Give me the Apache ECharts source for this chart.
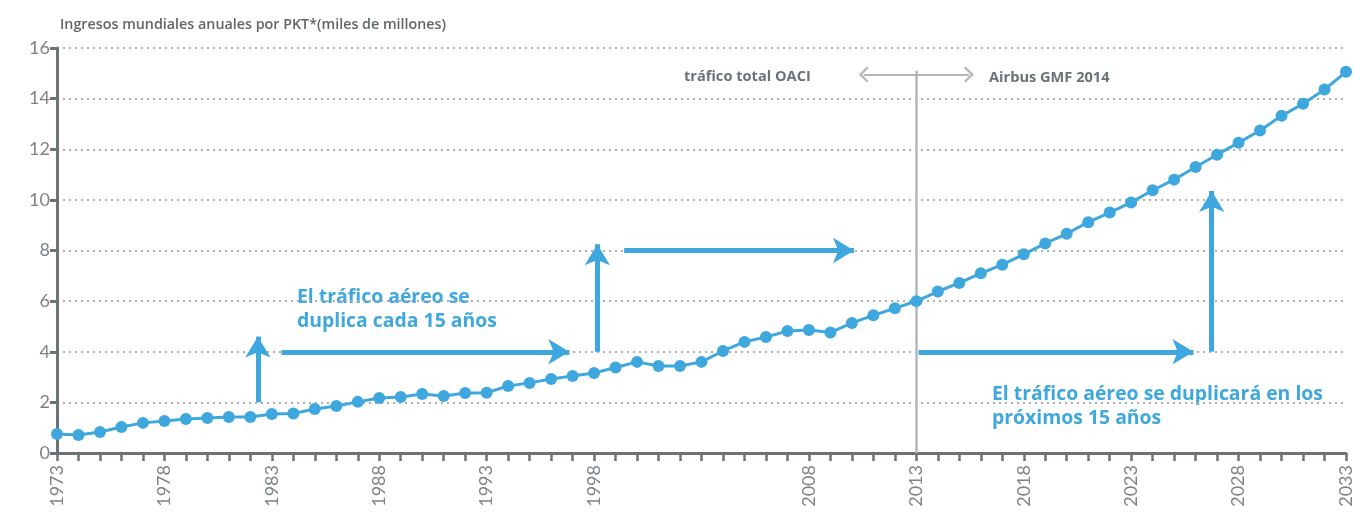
<!DOCTYPE html>
<html>
<head>
<meta charset="utf-8">
<script src="https://cdn.jsdelivr.net/npm/echarts@6/dist/echarts.min.js"></script>
<style>
  html, body { margin: 0; padding: 0; background: #fff; }
  #chart { width: 1355px; height: 516px; }
</style>
</head>
<body>
<div id="chart"></div>
<script>
// años y ingresos (miles de millones de PKT)
var years = [];
for (var y = 1973; y <= 2033; y++) years.push(y);
var values = [
    0.75, 0.71, 0.83, 1.03, 1.19, 1.26, 1.34, 1.38, 1.42, 1.42,
    1.54, 1.56, 1.74, 1.86, 2.02, 2.17, 2.21, 2.33, 2.25, 2.37,
    2.38, 2.65, 2.77, 2.92, 3.04, 3.16, 3.38, 3.60, 3.44, 3.44,
    3.60, 4.03, 4.39, 4.58, 4.82, 4.86, 4.76, 5.14, 5.44, 5.72,
    6.00, 6.38, 6.72, 7.10, 7.44, 7.85, 8.28, 8.66, 9.12, 9.50,
    9.90, 10.38, 10.80, 11.30, 11.78, 12.26, 12.74, 13.32, 13.80, 14.36,
    15.06
];
var tickYears = [1973, 1978, 1983, 1988, 1993, 1998, 2008, 2013, 2018, 2023, 2028, 2033];

var blue = '#3ea8de';
var grey = '#6c7377';

// flechas de duplicación: [x1, y1, x2, y2]
var blueArrows = [
    [1982.35, 2, 1982.35, 4.6],
    [1983.45, 4, 1996.85, 4],
    [1998.15, 4, 1998.15, 8.25],
    [1999.4, 8, 2010.1, 8],
    [2013.1, 4, 2025.9, 4],
    [2026.75, 4, 2026.75, 10.35]
];

var chevron = 'path://M6,0 L12,6 L10.8,7.2 L6,2.4 L1.2,7.2 L0,6 Z';

var markData = blueArrows.map(function (a) {
    return [
        { coord: [a[0], a[1]], symbol: 'none' },
        { coord: [a[2], a[3]], symbol: 'arrow', symbolSize: [19, 21] }
    ];
});
markData.push([
    { coord: [2013, 0], symbol: 'none', lineStyle: { color: '#b3b9bb', width: 2.5, type: 'solid' } },
    { coord: [2013, 15.1], symbol: 'none' }
]);
markData.push([
    { coord: [2010.55, 14.95], symbol: chevron, symbolSize: [16, 10], lineStyle: { color: '#b3b9bb', width: 2, type: 'solid' } },
    { coord: [2015.45, 14.95], symbol: chevron, symbolSize: [16, 10] }
]);

var chart = echarts.init(document.getElementById('chart'));
var option = {
    animation: false,
    textStyle: { fontFamily: 'Lato' },
    title: {
        text: 'Ingresos mundiales anuales por PKT*(miles de millones)',
        left: 55,
        top: 13,
        textStyle: { fontSize: 14.3, fontWeight: 600, color: '#5f666a', fontFamily: 'Open Sans' }
    },
    grid: { left: 57, right: 7, top: 48, bottom: 63 },
    xAxis: {
        type: 'value',
        min: 1973,
        max: 2033,
        interval: 1,
        splitLine: { show: false },
        axisLine: { lineStyle: { color: grey, width: 3 } },
        axisTick: { show: true, length: 8, lineStyle: { color: grey, width: 2.5 } },
        axisLabel: {
            rotate: 90,
            margin: 12,
            fontSize: 18,
            color: '#7d8387',
            formatter: function (v) {
                return tickYears.indexOf(v) >= 0 ? String(v) : '';
            }
        }
    },
    yAxis: {
        type: 'value',
        min: 0,
        max: 16,
        interval: 2,
        axisLine: { show: true, lineStyle: { color: grey, width: 3 } },
        axisTick: { show: true, length: 7, lineStyle: { color: grey, width: 3 } },
        axisLabel: { fontSize: 18, color: '#7d8387', margin: 7 },
        splitLine: { lineStyle: { color: '#a9aeb1', width: 2, type: [2, 4] } }
    },
    series: [{
        type: 'line',
        data: years.map(function (yr, i) { return [yr, values[i]]; }),
        symbol: 'circle',
        symbolSize: 12,
        lineStyle: { color: blue, width: 3 },
        itemStyle: { color: blue },
        z: 5,
        markLine: {
            silent: true,
            animation: false,
            label: { show: false },
            lineStyle: { color: blue, width: 5, type: 'solid' },
            data: markData
        }
    }],
    graphic: [
        {
            type: 'text', left: 297, top: 285,
            style: { text: 'El tráfico aéreo se\nduplica cada 15 años', fill: blue, font: 'bold 19.4px "Open Sans"', lineHeight: 24 }
        },
        {
            type: 'text', left: 992, top: 382,
            style: { text: 'El tráfico aéreo se duplicará en los\npróximos 15 años', fill: blue, font: 'bold 19.4px "Open Sans"', lineHeight: 24 }
        },
        {
            type: 'text', left: 684, top: 69,
            style: { text: 'tráfico total OACI', fill: grey, font: 'bold 14.6px "Open Sans"' }
        },
        {
            type: 'text', left: 989, top: 70,
            style: { text: 'Airbus GMF 2014', fill: grey, font: 'bold 14.6px "Open Sans"' }
        }
    ]
};
chart.setOption(option);
</script>
</body>
</html>
